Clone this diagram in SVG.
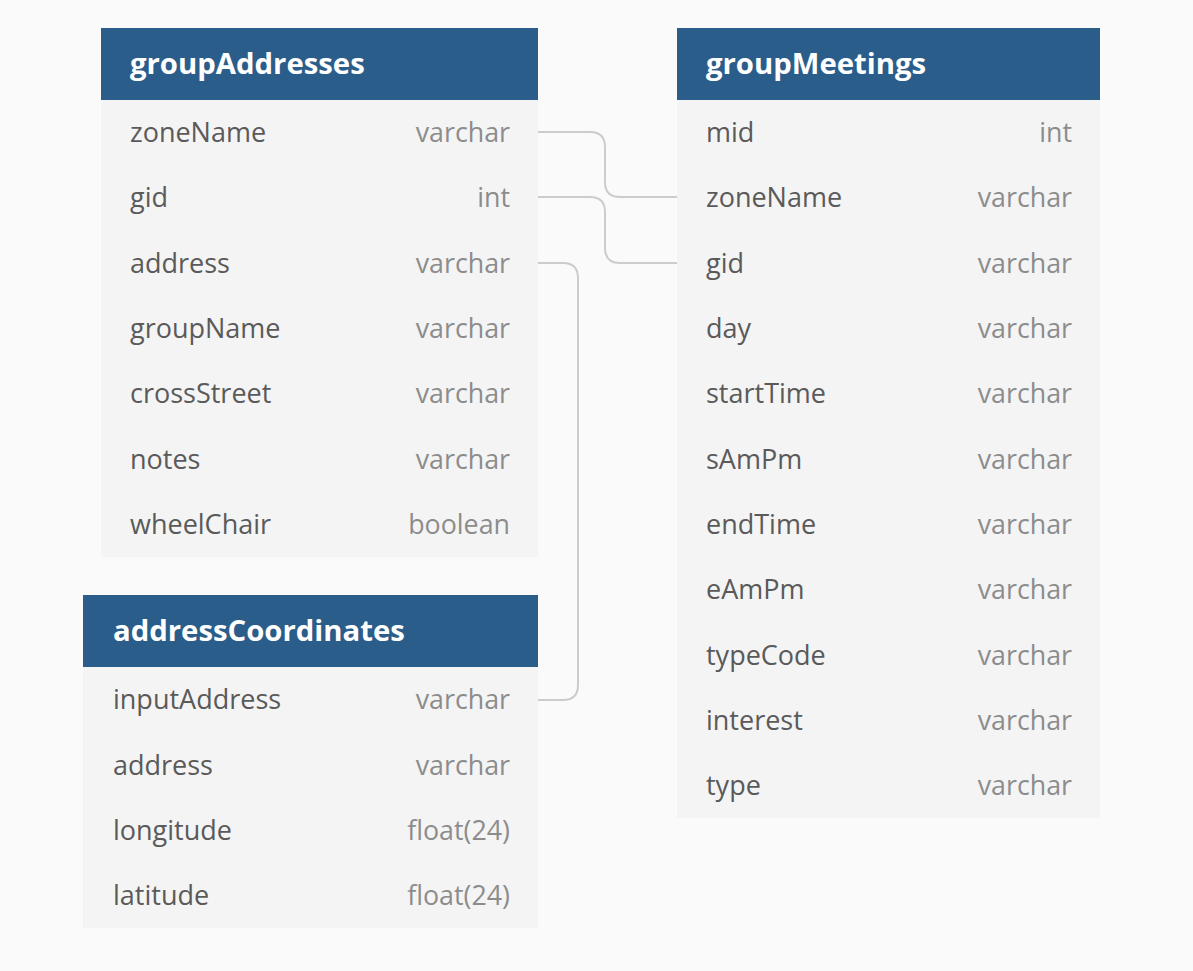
<svg xmlns="http://www.w3.org/2000/svg" width="1193" height="971" viewBox="0 0 1193 971">
<style>
.hd{fill:#2b5d8a}
.bd{fill:#f4f4f4}
.tt{font-family:"Open Sans",sans-serif;font-weight:bold;font-size:29.3px;fill:#ffffff}
.nm{font-family:"Open Sans",sans-serif;font-size:27px;fill:#5a5a5a}
.ty{font-family:"Open Sans",sans-serif;font-size:26.8px;fill:#8c8c8c;text-anchor:end}
.cn{fill:none;stroke:#cccccc;stroke-width:2}
</style>
<rect width="1193" height="971" fill="#fafafa"/>
<g id="connectors">
<path class="cn" d="M538,132 H590 Q605,132 605,147 V182 Q605,197 620,197 H677"/>
<path class="cn" d="M538,197 H590 Q605,197 605,212 V248 Q605,263 620,263 H677"/>
<path class="cn" d="M538,263 H563 Q578,263 578,278 V685 Q578,700 563,700 H538"/>
</g>
<g id="groupAddresses">
<rect class="bd" x="101" y="100" width="437" height="457"/>
<rect class="hd" x="101" y="28" width="437" height="72"/>
<text class="tt" x="130" y="74">groupAddresses</text>
<text class="nm" x="130" y="142">zoneName</text><text class="ty" x="510" y="142">varchar</text>
<text class="nm" x="130" y="207">gid</text><text class="ty" x="510" y="207">int</text>
<text class="nm" x="130" y="273">address</text><text class="ty" x="510" y="273">varchar</text>
<text class="nm" x="130" y="338">groupName</text><text class="ty" x="510" y="338">varchar</text>
<text class="nm" x="130" y="403">crossStreet</text><text class="ty" x="510" y="403">varchar</text>
<text class="nm" x="130" y="469">notes</text><text class="ty" x="510" y="469">varchar</text>
<text class="nm" x="130" y="534">wheelChair</text><text class="ty" x="510" y="534">boolean</text>
</g>
<g id="groupMeetings">
<rect class="bd" x="677" y="100" width="423" height="718"/>
<rect class="hd" x="677" y="28" width="423" height="72"/>
<text class="tt" x="706" y="74">groupMeetings</text>
<text class="nm" x="706" y="142">mid</text><text class="ty" x="1072" y="142">int</text>
<text class="nm" x="706" y="207">zoneName</text><text class="ty" x="1072" y="207">varchar</text>
<text class="nm" x="706" y="273">gid</text><text class="ty" x="1072" y="273">varchar</text>
<text class="nm" x="706" y="338">day</text><text class="ty" x="1072" y="338">varchar</text>
<text class="nm" x="706" y="403">startTime</text><text class="ty" x="1072" y="403">varchar</text>
<text class="nm" x="706" y="469">sAmPm</text><text class="ty" x="1072" y="469">varchar</text>
<text class="nm" x="706" y="534">endTime</text><text class="ty" x="1072" y="534">varchar</text>
<text class="nm" x="706" y="599">eAmPm</text><text class="ty" x="1072" y="599">varchar</text>
<text class="nm" x="706" y="665">typeCode</text><text class="ty" x="1072" y="665">varchar</text>
<text class="nm" x="706" y="730">interest</text><text class="ty" x="1072" y="730">varchar</text>
<text class="nm" x="706" y="795">type</text><text class="ty" x="1072" y="795">varchar</text>
</g>
<g id="addressCoordinates">
<rect class="bd" x="83" y="667" width="455" height="261"/>
<rect class="hd" x="83" y="595" width="455" height="72"/>
<text class="tt" x="113" y="641">addressCoordinates</text>
<text class="nm" x="113" y="709">inputAddress</text><text class="ty" x="510" y="709">varchar</text>
<text class="nm" x="113" y="775">address</text><text class="ty" x="510" y="775">varchar</text>
<text class="nm" x="113" y="840">longitude</text><text class="ty" x="510" y="840">float(24)</text>
<text class="nm" x="113" y="905">latitude</text><text class="ty" x="510" y="905">float(24)</text>
</g>
</svg>
